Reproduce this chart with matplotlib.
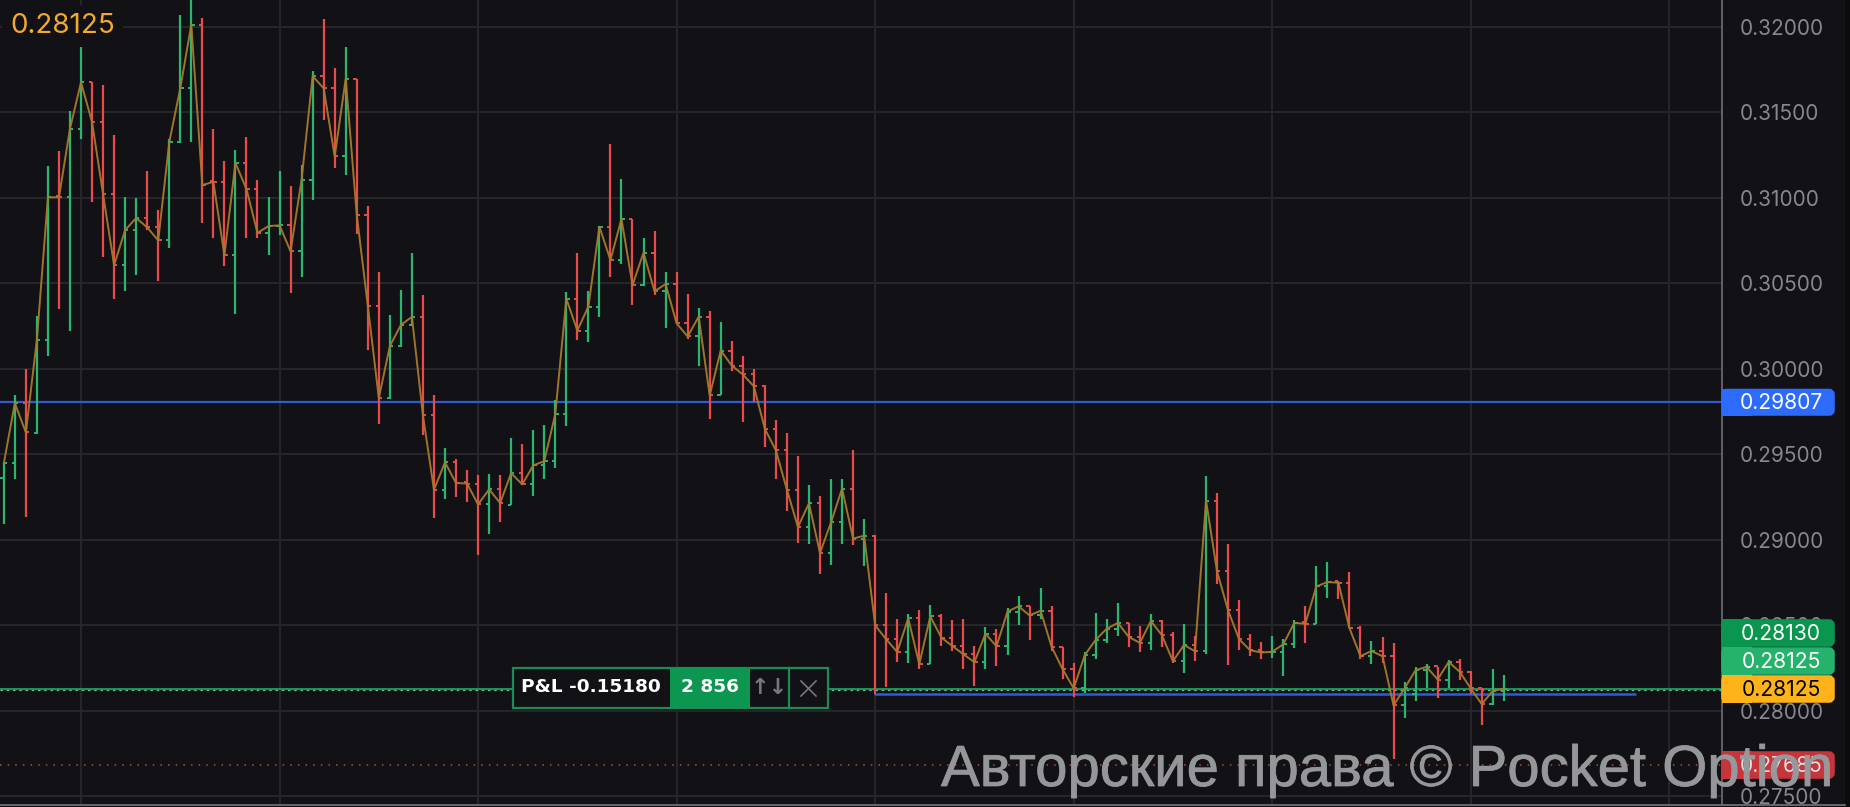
import matplotlib.pyplot as plt
from matplotlib.patches import FancyBboxPatch, Rectangle
import matplotlib.patheffects as pe
import numpy as np

# prices in 1e-5 units
opens = [29361, 29448, 29800, 29624, 30172, 31010, 31004, 31406, 31676, 31444,
         31022, 30607, 30812, 30883, 30828, 30752, 31326, 31642, 32014, 31100,
         31094, 30665, 31205, 31052, 30796, 30836, 30840, 30688, 31108, 31712,
         31642, 31243, 31698, 30901, 30371, 29830, 30134, 30257, 30305, 29729,
         29294, 29454, 29340, 29330, 29208, 29296, 29205, 29391, 29325, 29436,
         29461, 29736, 30411, 30225, 30365, 30832, 30637, 30877, 30491, 30680,
         30454, 30497, 30267, 30190, 30306, 29845, 30108, 30020, 29968, 29899,
         29650, 29524, 29294, 29076, 29214, 28924, 29103, 29300, 29008, 29025,
         28501, 28419, 28345, 28542, 28274, 28553, 28429, 28380, 28332, 28285,
         28452, 28378, 28581, 28612, 28559, 28586, 28375, 28244, 28132, 28326,
         28417, 28481, 28515, 28433, 28398, 28526, 28443, 28291, 28386, 28349,
         29230, 28816, 28588, 28419, 28355, 28342, 28346, 28390, 28518, 28510,
         28728, 28760, 28750, 28485, 28320, 28351, 28320, 28033, 28100, 28239,
         28262, 28184, 28287, 28229, 28132, 28040, 28118]
closes = [29448, 29800, 29629, 30172, 31004, 31004, 31406, 31676, 31444, 31022,
          30607, 30812, 30883, 30828, 30752, 31326, 31642, 32014, 31076, 31094,
          30665, 31205, 31052, 30796, 30836, 30840, 30688, 31108, 31712, 31642,
          31243, 31698, 30901, 30371, 29830, 30134, 30257, 30305, 29729, 29294,
          29454, 29333, 29330, 29208, 29296, 29216, 29391, 29325, 29436, 29461,
          29736, 30411, 30225, 30365, 30832, 30637, 30877, 30491, 30680, 30454,
          30497, 30267, 30190, 30306, 29845, 30108, 30020, 29968, 29899, 29650,
          29524, 29294, 29076, 29214, 28924, 29103, 29300, 29008, 29025, 28501,
          28419, 28345, 28542, 28274, 28553, 28429, 28380, 28332, 28285, 28452,
          28378, 28581, 28612, 28559, 28586, 28375, 28244, 28132, 28326, 28417,
          28481, 28515, 28433, 28398, 28526, 28443, 28291, 28386, 28349, 29230,
          28816, 28588, 28419, 28355, 28342, 28346, 28390, 28515, 28510, 28728,
          28754, 28750, 28485, 28320, 28351, 28320, 28033, 28132, 28239, 28258,
          28184, 28287, 28229, 28132, 28040, 28118, 28130]
highs = [29448, 29850, 30001, 30307, 31189, 31273, 31507, 31889, 31676, 31662,
         31370, 31008, 31002, 31155, 30927, 31344, 32070, 32165, 32054, 31404,
         31219, 31283, 31354, 31108, 31008, 31155, 31068, 31195, 31742, 32044,
         31762, 31883, 31698, 30955, 30565, 30313, 30464, 30679, 30434, 29850,
         29538, 29475, 29407, 29378, 29387, 29378, 29598, 29563, 29644, 29670,
         29820, 30450, 30678, 30456, 30834, 31315, 31110, 30877, 30766, 30807,
         30565, 30565, 30439, 30357, 30341, 30275, 30166, 30075, 29999, 29909,
         29703, 29627, 29489, 29323, 29257, 29358, 29358, 29528, 29125, 29029,
         28691, 28540, 28569, 28588, 28618, 28569, 28534, 28540, 28378, 28491,
         28481, 28604, 28670, 28616, 28720, 28612, 28375, 28283, 28345, 28575,
         28540, 28633, 28515, 28495, 28569, 28530, 28462, 28507, 28441, 29375,
         29274, 28977, 28651, 28452, 28402, 28437, 28419, 28534, 28612, 28849,
         28872, 28763, 28814, 28499, 28410, 28433, 28400, 28171, 28258, 28277,
         28258, 28297, 28301, 28233, 28132, 28248, 28209]
lows = [29091, 29357, 29135, 29619, 30076, 30351, 30223, 31344, 30975, 30655,
        30412, 30456, 30549, 30810, 30514, 30710, 31320, 31328, 30853, 30766,
        30603, 30321, 30766, 30766, 30665, 30786, 30444, 30539, 30987, 31456,
        31173, 31134, 30790, 30112, 29679, 29826, 30128, 30249, 29615, 29129,
        29240, 29251, 29222, 28914, 29033, 29105, 29202, 29319, 29259, 29356,
        29420, 29668, 30168, 30156, 30306, 30536, 30614, 30374, 30485, 30433,
        30238, 30264, 30176, 30016, 29709, 29845, 29991, 29689, 29806, 29543,
        29358, 29169, 28984, 28978, 28803, 28856, 28978, 28969, 28848, 28097,
        28138, 28287, 28281, 28248, 28272, 28380, 28351, 28246, 28147, 28246,
        28264, 28328, 28503, 28413, 28540, 28351, 28186, 28083, 28103, 28301,
        28400, 28441, 28375, 28344, 28355, 28375, 28281, 28223, 28293, 28334,
        28740, 28270, 28355, 28322, 28305, 28310, 28206, 28371, 28398, 28511,
        28660, 28656, 28485, 28301, 28277, 28283, 27718, 27961, 28060, 28132,
        28077, 28132, 28180, 28097, 27918, 28035, 28060]

y_ticks = [0.32, 0.315, 0.31, 0.305, 0.30, 0.295, 0.29, 0.285, 0.28, 0.275]
x_ticks = [7, 25, 43, 61, 79, 97, 115, 133, 151]
level_blue = 0.29807
level_entry = 0.28130
level_price = 0.28125
level_stop = 0.28101
level_low = 0.27685
stop_start = 79
stop_end = 148

BG = '#111116'
GRID = '#25252a'
GREEN = '#2bb670'
RED = '#ea4a4a'
BLUE = '#2f5cd6'

o = np.array(opens) / 1e5
c = np.array(closes) / 1e5
h = np.array(highs) / 1e5
l = np.array(lows) / 1e5
x = np.arange(len(o))
cols = [GREEN if c[i] >= o[i] else RED for i in x]

fig = plt.figure(figsize=(18.5, 8.07), dpi=100, facecolor=BG)
ax = fig.add_axes([0, 2.5 / 807, 1722 / 1850, 804.5 / 807], facecolor=BG)
ax.set_xlim(-0.345, 155.78)
ax.set_ylim(0.27453, 0.321579)

ax.set_xticks(x_ticks)
ax.set_yticks(y_ticks)
ax.set_yticklabels(['%.5f' % v for v in y_ticks], family='Inter', fontsize=15, color='#87878c')
ax.yaxis.tick_right()
ax.tick_params(axis='y', length=0, pad=12.5)
ax.tick_params(axis='x', length=0, labelbottom=False)
ax.grid(color=GRID, linewidth=1.5)
ax.set_axisbelow(True)
for s in ['top', 'left', 'bottom']:
    ax.spines[s].set_visible(False)
ax.spines['right'].set_color('#6e6e73')
ax.spines['right'].set_linewidth(1.2)

ax.axhline(level_blue, color=BLUE, lw=1.6, zorder=2)
ax.hlines(level_stop, stop_start - 0.1, stop_end, color=BLUE, lw=1.8, zorder=2)
ax.axhline(level_entry, color='#1f8f58', lw=1.5, zorder=2)
ax.axhline(level_price, color='#57c98d', lw=0.9, ls=(0, (2, 3)), zorder=2)
ax.axhline(level_low, color='#b0503f', lw=1.1, ls=(0, (1, 4)), zorder=2)

ax.vlines(x, l, h, colors=cols, lw=1.6, zorder=3)
ax.hlines(o, x - 0.3, x, colors=cols, lw=1.4, zorder=3)
ax.hlines(c, x, x + 0.3, colors=cols, lw=1.4, zorder=3)
ax.plot(x, c, color='#a87a2c', lw=1.4, alpha=0.95, zorder=4, solid_joinstyle='round')

# pixel canvas for the trading UI widgets
ui = fig.add_axes([0, 0, 1, 1], facecolor='none')
ui.set_xlim(0, 1850)
ui.set_ylim(807, 0)
ui.axis('off')

ui.add_patch(Rectangle((1845, 0), 5, 807, fc='#0b0b0e', ec='none', zorder=1))
ui.plot([0, 1845], [805, 805], color='#6e6e73', lw=1.3, zorder=1)


def tag(top, bottom, color, label, text_color='white'):
    ui.add_patch(FancyBboxPatch((1724, top + 3), 108, bottom - top - 6, boxstyle='round,pad=0,rounding_size=3',
                                mutation_aspect=1, fc=color, ec=color, lw=4, zorder=5))
    ui.add_patch(Rectangle((1722, top), 30, bottom - top, fc=color, ec='none', zorder=5))
    ui.text(1781, (top + bottom) / 2 + 0.5, label, color=text_color, family='Inter', fontsize=15.2,
            ha='center', va='center', zorder=6)


tag(388.5, 416, '#2c6bfb', '%.5f' % level_blue)
tag(619, 647, '#0b9650', '%.5f' % level_entry)
tag(647, 675, '#25b26a', '%.5f' % level_price)
tag(675, 703, '#ffb31a', '%.5f' % level_price, 'black')
tag(751, 779, '#c5353a', '%.5f' % level_low, '#e0e0e0')

# P&L panel
ui.add_patch(Rectangle((513, 668), 315, 40, fc=BG, ec='#1f8a55', lw=1.6, zorder=5))
ui.add_patch(Rectangle((670, 668), 80, 40, fc='#0c9650', ec='none', zorder=6))
ui.plot([789, 789], [668, 708], color='#1f8a55', lw=1.6, zorder=6)
ui.text(591, 687, 'P&L -0.15180', color='white', family='DejaVu Sans', weight='bold', fontsize=13.3,
        ha='center', va='center', zorder=7)
ui.text(710, 687, '2 856', color='white', family='DejaVu Sans', weight='bold', fontsize=13.3,
        ha='center', va='center', zorder=7)
ui.text(769.5, 688, '↑↓', color='#77777c', family='DejaVu Sans', weight='bold', fontsize=16, ha='center',
        va='center', zorder=7)
ui.plot([801, 816], [681, 696], color='#77777c', lw=1.2, zorder=7)
ui.plot([801, 816], [696, 681], color='#77777c', lw=1.2, zorder=7)

ui.text(10, 26, '%.5f' % level_price, color='#f2a92c', family='Inter', fontsize=20, ha='left', va='center',
        zorder=7, bbox=dict(fc=BG, ec='none', pad=6))

mark = ui.text(941, 786, 'Авторские права © Pocket Option', color='#98999d', alpha=0.88, family='Liberation Sans',
               fontsize=41.8, ha='left', va='baseline', zorder=8)
mark.set_path_effects([pe.withStroke(linewidth=0.6, foreground='#98999d')])

fig.savefig('out.png', dpi=100, facecolor=BG)
